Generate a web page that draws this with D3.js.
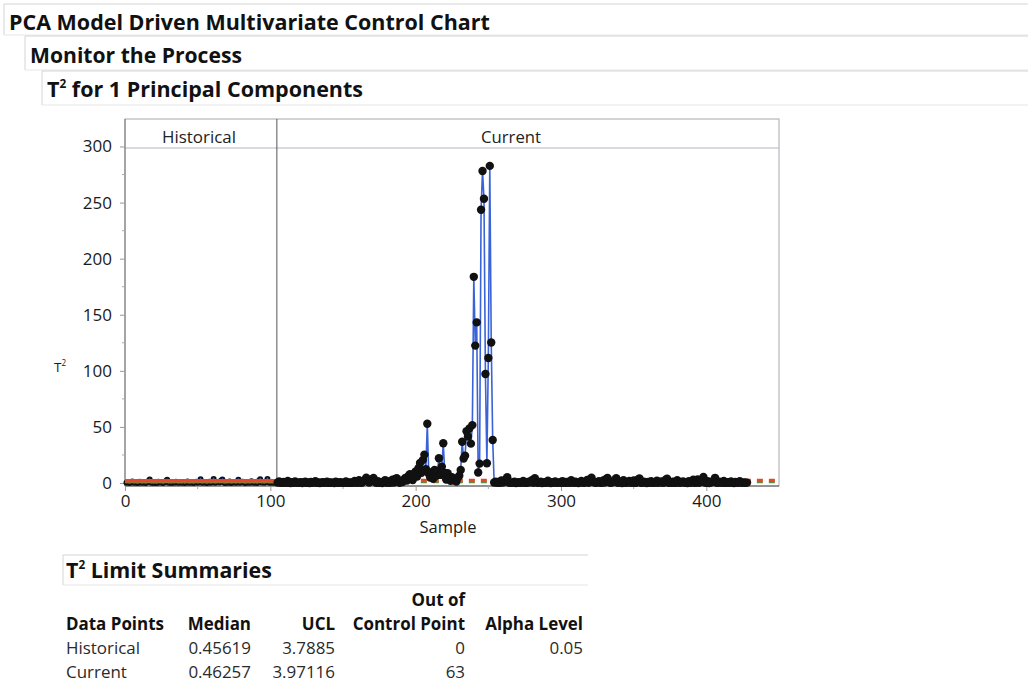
<!DOCTYPE html>
<html>
<head>
<meta charset="utf-8">
<script src="https://cdn.jsdelivr.net/npm/d3@7"></script>
<style>
  html, body { margin: 0; padding: 0; background: #fff; }
  svg { display: block; font-family: "Open Sans", "Noto Sans", sans-serif; }
</style>
</head>
<body>
<svg id="chart" width="1028" height="684"></svg>
<script>
// T² values for the historical (model) phase, samples 1..104
const historicalT2 = [
  0.21, 0.85, 0.05, 0.44, 1.32, 0.12, 0.67, 0.30, 0.02, 1.05,
  0.48, 0.18, 0.91, 0.07, 0.39, 1.6, 3.1, 0.26, 0.55, 0.11,
  0.73, 0.04, 1.21, 0.35, 0.62, 0.09, 0.46, 1.45, 2.9, 0.17,
  0.58, 0.03, 0.82, 0.27, 1.12, 0.41, 0.14, 0.69, 0.22, 0.95,
  0.08, 0.51, 1.38, 0.19, 0.36, 0.77, 0.06, 0.44, 1.02, 0.28,
  0.63, 3.3, 0.15, 0.48, 0.87, 0.02, 0.33, 1.18, 0.24, 0.71,
  3.5, 0.13, 0.56, 0.98, 0.37, 1.9, 3.2, 0.45, 0.10, 0.66,
  0.29, 1.27, 0.07, 0.52, 0.84, 0.20, 0.47, 3.0, 0.16, 0.59,
  1.09, 0.31, 0.05, 0.74, 0.43, 0.12, 1.54, 0.38, 0.25, 0.81,
  0.09, 1.7, 3.4, 0.34, 0.61, 0.18, 1.15, 3.6, 0.42, 0.27,
  0.76, 0.14, 0.50, 0.93
];

// T² values for the monitored (current) phase, samples 105..428
const currentT2 = [
  0.32, 1.45, 0.18, 0.07, 0.95, 0.41, 0.12, 1.8, 0.26, 0.05,
  0.61, 0.22, 1.35, 0.09, 0.38, 0.14, 0.72, 0.03, 0.29, 1.1,
  0.17, 0.44, 0.06, 0.88, 0.21, 0.35, 1.6, 0.11, 0.47, 0.02,
  0.25, 0.79, 0.15, 0.39, 1.25, 0.08, 0.52, 0.19, 0.33, 0.04,
  1.05, 0.27, 0.13, 0.66, 0.36, 0.09, 0.24, 1.4, 0.16, 0.43,
  0.07, 0.58, 0.2, 1.9, 0.31, 0.1, 2.4, 0.45, 0.14, 1.2,
  2.8, 4.7, 1.5, 0.37, 2.2, 3.3, 4.4, 0.9, 0.23, 1.7,
  0.11, 0.4, 0.06, 0.85, 2.6, 0.28, 1.3, 0.17, 0.49, 2.9,
  0.34, 3.5, 4.3, 1.1, 0.21,
  // 190..255
  1.8, 0.9, 3.2, 4.6, 2.1, 6.2, 7.8, 4.4, 2.6, 8.5,
  10.2, 5.8, 13.5, 17.8, 9.1, 20.6, 25.3, 12.4, 52.8, 8.3,
  4.9, 9.6, 3.8, 11.7, 6.4, 10.5, 22.1, 7.2, 14.6, 35.5,
  9.0, 3.1, 8.7, 4.2, 1.9, 5.1, 2.4, 3.6, 1.2, 4.8,
  6.5, 11.6, 36.8, 21.9, 24.4, 46.2, 41.5, 48.7, 35.1, 51.6,
  183.8, 122.5, 143.2, 9.4, 17.3, 243.6, 278.1, 253.4, 97.2, 17.6,
  111.4, 282.7, 125.3, 38.4, 0.4, 1.1,
  // 256..428
  0.28, 0.85, 0.14, 2.2, 0.41, 1.5, 3.1, 5.2, 0.36, 0.09,
  0.6, 0.19, 1.25, 0.05, 0.33, 0.72, 0.12, 0.47, 1.8, 0.24,
  0.08, 0.9, 0.31, 1.4, 2.6, 0.17, 4.3, 0.55, 0.13, 0.39,
  1.05, 0.06, 0.26, 0.68, 0.15, 2.1, 0.42, 0.03, 0.82, 0.21,
  1.3, 0.1, 0.35, 0.57, 0.18, 1.7, 0.29, 0.07, 0.93, 0.44,
  0.16, 2.4, 0.38, 0.11, 1.15, 0.25, 0.04, 0.62, 1.9, 0.3,
  0.13, 0.77, 2.8, 0.2, 3.4, 4.8, 1.2, 0.43, 0.09, 0.58,
  1.6, 0.27, 0.14, 2.3, 0.36, 3.6, 4.5, 0.8, 0.19, 0.46,
  1.35, 2.7, 4.2, 0.12, 0.31, 1.1, 0.06, 2.5, 0.4, 0.22,
  0.7, 1.8, 0.15, 0.34, 2.2, 0.08, 0.51, 3.2, 3.95, 0.26,
  0.17, 1.25, 0.39, 0.05, 0.88, 0.24, 1.6, 0.13, 0.45, 0.3,
  2.1, 0.1, 0.63, 1.4, 0.21, 0.36, 3.0, 3.9, 0.18, 0.48,
  0.07, 1.05, 0.28, 0.16, 2.4, 0.42, 0.11, 0.74, 1.3, 0.2,
  0.33, 0.04, 1.7, 0.25, 0.55, 2.9, 0.14, 0.38, 3.1, 0.09,
  1.2, 2.6, 5.4, 0.32, 0.19, 1.5, 0.06, 0.47, 0.86, 2.2,
  4.6, 0.29, 0.12, 1.1, 0.37, 0.23, 1.9, 0.08, 0.41, 0.65,
  0.15, 1.35, 0.27, 0.05, 0.9, 0.34, 0.18, 1.6, 0.44, 0.1,
  0.52, 0.21, 0.36
];

// Phase labels and control limits
const phases = ["Historical", "Current"];
const medians = [0.45619, 0.46257];
const ucls = [3.7885, 3.97116];
const outOfControl = [0, 63];
const alphaLevels = ["0.05", ""];
const medianText = ["0.45619", "0.46257"];
const uclText = ["3.7885", "3.97116"];

// Axis ticks
const yTicks = [0, 50, 100, 150, 200, 250, 300];
const yMinorTicks = [25, 75, 125, 175, 225, 275];
const xTicks = [0, 100, 200, 300, 400];
const xMinorTicks = [50, 150, 250, 350];

const svg = d3.select("#chart");
const ink = "#111";

// scale a text's font size so that it spans the given width
function fitText(sel, width) {
  const w = sel.node().getComputedTextLength();
  const fs = parseFloat(sel.attr("font-size"));
  const nfs = fs * width / w;
  sel.attr("font-size", nfs.toFixed(2));
  return nfs;
}

// ---------- outline headers ----------
function header(x, y, w, h, tx, ty, text, tw, sup) {
  svg.append("path")
    .attr("d", `M${x},${y + h} L${x},${y} L${x + w},${y}`)
    .attr("fill", "none").attr("stroke", "#d4d4d4").attr("stroke-width", 1);
  svg.append("line").attr("x1", x).attr("x2", x + w).attr("y1", y + h).attr("y2", y + h)
    .attr("stroke", "#e6e6e6");
  const t = svg.append("text").attr("x", tx).attr("y", ty)
    .attr("font-size", 18).attr("font-weight", 700).attr("fill", ink);
  if (sup) {
    t.append("tspan").text("T");
    t.append("tspan").text("2").attr("font-size", "0.55em").attr("dy", "-0.75em");
    t.append("tspan").text(text).attr("dy", "0.41em");
  } else {
    t.text(text);
  }
  fitText(t, tw);
}
header(4, 4, 1030, 31, 9, 30, "PCA Model Driven Multivariate Control Chart", 481, false);
header(25, 36, 1010, 34, 30, 63, "Monitor the Process", 212, false);
header(42, 71, 990, 34, 47, 97, " for 1 Principal Components", 316, true);

// ---------- control chart ----------
const pLeft = 125, pRight = 779, pTop = 119, stripBottom = 148, pBottom = 486;
const x = d3.scaleLinear().domain([0, 450]).range([pLeft, pRight]);
const y = d3.scaleLinear().domain([0, 300]).range([483, 146.5]);

const nHist = historicalT2.length;
const points = historicalT2.map((v, i) => ({ s: i + 1, v, phase: 0 }))
  .concat(currentT2.map((v, i) => ({ s: nHist + i + 1, v, phase: 1 })));
const split = nHist + 0.5;

const plot = svg.append("g");

// frame and phase strip
plot.append("rect").attr("x", pLeft).attr("y", pTop).attr("width", pRight - pLeft).attr("height", pBottom - pTop)
  .attr("fill", "none").attr("stroke", "#a8a8a8").attr("stroke-width", 1);
plot.append("line").attr("x1", pLeft).attr("x2", pRight).attr("y1", stripBottom).attr("y2", stripBottom)
  .attr("stroke", "#b4b4c4").attr("stroke-width", 1);
plot.append("line").attr("x1", x(split)).attr("x2", x(split)).attr("y1", pTop).attr("y2", pBottom)
  .attr("stroke", "#555").attr("stroke-width", 1);
const phaseLabelX = [199, 511];
const phaseLabelW = [74, 60];
plot.selectAll("text.phase").data(phases).join("text")
  .attr("class", "phase")
  .attr("x", (d, i) => phaseLabelX[i])
  .attr("y", 143).attr("text-anchor", "middle").attr("font-size", 13).attr("fill", "#222")
  .text(d => d)
  .each(function (d, i) { fitText(d3.select(this), phaseLabelW[i]); });

// axes
const tickFont = 17;
const yAxis = d3.axisLeft(y).tickValues(yTicks).tickSize(5).tickPadding(8);
const gy = plot.append("g").attr("transform", `translate(${pLeft},0)`).call(yAxis);
gy.select(".domain").attr("d", `M0,${pTop}V${pBottom}`).attr("stroke", "#777");
gy.selectAll(".tick line").attr("stroke", "#999");
gy.selectAll(".tick text").attr("font-size", tickFont).attr("fill", "#1a1a1a")
  .attr("font-family", "'Open Sans', sans-serif");
plot.append("g").selectAll("line").data(yMinorTicks).join("line")
  .attr("x1", pLeft - 3).attr("x2", pLeft).attr("y1", d => y(d)).attr("y2", d => y(d))
  .attr("stroke", "#aaa");

const xAxis = d3.axisBottom(x).tickValues(xTicks).tickSize(5).tickPadding(4);
const gx = plot.append("g").attr("transform", `translate(0,${pBottom})`).call(xAxis);
gx.select(".domain").attr("d", `M${pLeft},0H${pRight}`).attr("stroke", "#555");
gx.selectAll(".tick line").attr("stroke", "#999");
gx.selectAll(".tick text").attr("font-size", tickFont).attr("fill", "#1a1a1a")
  .attr("font-family", "'Open Sans', sans-serif");
plot.append("g").selectAll("line").data(xMinorTicks).join("line")
  .attr("x1", d => x(d)).attr("x2", d => x(d)).attr("y1", pBottom).attr("y2", pBottom + 3)
  .attr("stroke", "#aaa");

const sampleLabel = plot.append("text").attr("x", 448).attr("y", 533).attr("text-anchor", "middle")
  .attr("font-size", 13).attr("fill", "#1a1a1a").text("Sample");
fitText(sampleLabel, 57);
const yl = plot.append("text").attr("x", 54).attr("y", 372).attr("font-size", 13.5).attr("fill", "#1a1a1a");
yl.append("tspan").text("T");
yl.append("tspan").text("2").attr("font-size", "0.6em").attr("dy", "-0.7em");

// historical markers sit beneath the limit lines
plot.append("g").selectAll("circle").data(points.filter(d => d.phase === 0)).join("circle")
  .attr("cx", d => x(d.s)).attr("cy", d => y(d.v)).attr("r", 3).attr("fill", "#111");

// connecting line
plot.append("path").datum(points)
  .attr("d", d3.line().x(d => x(d.s)).y(d => y(d.v)))
  .attr("fill", "none").attr("stroke", "#3a63d8").attr("stroke-width", 1.6);

// limit lines: median (green) and UCL (red) for each phase
const phaseBounds = [[0, split], [split, 450]];
const limitG = plot.append("g");
phaseBounds.forEach((b, i) => {
  const x0 = x(b[0]), x1 = i === 0 ? x(b[1]) : pRight - 4;
  limitG.append("line").attr("x1", x0).attr("x2", x1).attr("y1", y(medians[i])).attr("y2", y(medians[i]))
    .attr("stroke", "#3aa83a").attr("stroke-width", 1.5)
    .attr("stroke-dasharray", i === 0 ? null : "6,6");
  limitG.append("line").attr("x1", x0).attr("x2", x1).attr("y1", y(ucls[i]) + 2).attr("y2", y(ucls[i]) + 2)
    .attr("stroke", "#e8442e").attr("stroke-width", 3.5)
    .attr("stroke-dasharray", i === 0 ? null : "6,6");
});

// current markers drawn on top
plot.append("g").selectAll("circle").data(points.filter(d => d.phase === 1)).join("circle")
  .attr("cx", d => x(d.s)).attr("cy", d => y(d.v)).attr("r", 4.2).attr("fill", "#111");

// ---------- limit summary table ----------
header(63, 555, 525, 30, 66, 578, " Limit Summaries", 206, true);

const colRight = [null, 251, 335, 465, 583];
const colHeads = ["Data Points", "Median", "UCL", "Control Point", "Alpha Level"];
const tbl = svg.append("g").attr("fill", ink);
const probe = tbl.append("text").attr("font-size", 14).attr("font-weight", 700).text(colHeads[0]);
const tblFont = fitText(probe, 98);
probe.remove();
tbl.attr("font-size", tblFont.toFixed(2));
tbl.append("text").attr("x", colRight[3]).attr("y", 606).attr("text-anchor", "end")
  .attr("font-weight", 700).text("Out of");
tbl.selectAll("text.head").data(colHeads).join("text").attr("class", "head")
  .attr("x", (d, i) => i === 0 ? 66 : colRight[i]).attr("y", 630)
  .attr("text-anchor", (d, i) => i === 0 ? "start" : "end").attr("font-weight", 700)
  .text(d => d);
phases.forEach((p, r) => {
  const yy = 654 + r * 24;
  const cells = [p, medianText[r], uclText[r], String(outOfControl[r]), alphaLevels[r]];
  cells.forEach((c, i) => {
    tbl.append("text").attr("x", i === 0 ? 66 : colRight[i]).attr("y", yy)
      .attr("text-anchor", i === 0 ? "start" : "end").attr("fill", "#2a2a2a").text(c);
  });
});
</script>
</body>
</html>
